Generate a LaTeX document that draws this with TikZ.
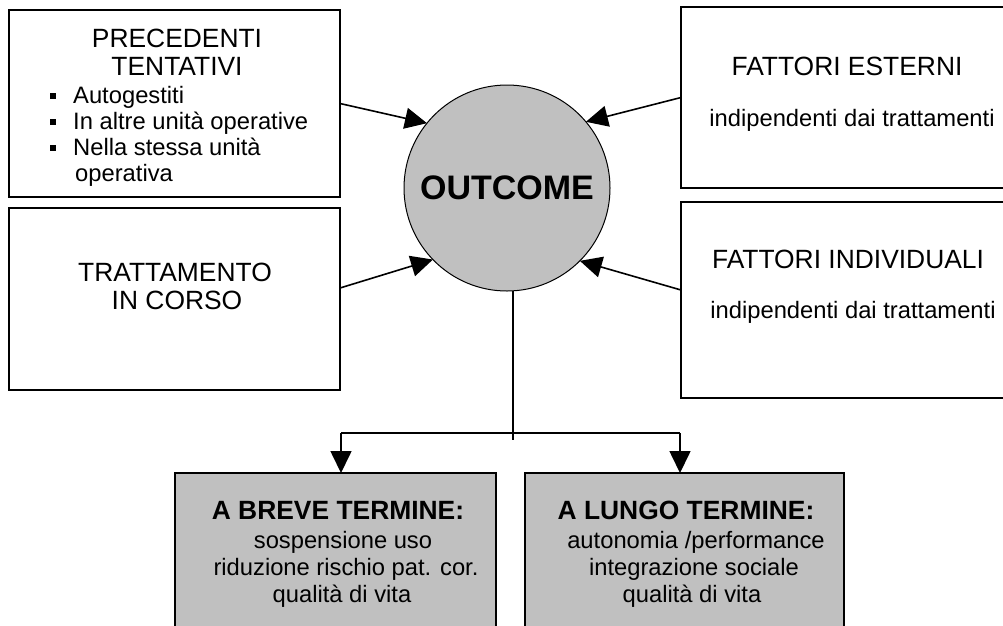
\documentclass[tikz,border=0pt]{standalone}
\usepackage{fontspec}
\setmainfont{Liberation Sans}
\usetikzlibrary{arrows.meta}
\definecolor{silver}{HTML}{C0C0C0}
\newcommand\ttlsize{\fontsize{26.4}{28}\selectfont}
\newcommand\bodysize{\fontsize{23.75}{26}\selectfont}
\tikzset{
  box/.style={draw=black, line width=1.3pt, rectangle, inner sep=0pt, outer sep=0pt, anchor=north west, fill=white},
  gbox/.style={draw=black, line width=1.6pt, rectangle, inner sep=0pt, outer sep=0pt, anchor=north west, fill=silver},
  ttl/.style={font=\ttlsize, anchor=base, inner sep=0pt},
  btl/.style={font=\bfseries\ttlsize, anchor=base, inner sep=0pt},
  txt/.style={font=\bodysize, anchor=base, inner sep=0pt},
  txtw/.style={font=\bodysize, anchor=base west, inner sep=0pt},
  bul/.style={fill=black, minimum size=6pt, inner sep=0pt, outer sep=0pt},
  conn/.style={line width=1.6pt},
  arr/.style={line width=1.6pt, -{Triangle[length=22pt,width=21pt]}},
}
\begin{document}
\begin{tikzpicture}[x=1pt,y=-1pt]
\useasboundingbox (0,0) rectangle (1003,625);
\clip (0,0) rectangle (1003,625);
\fill[white] (0,0) rectangle (1003,625);
% boxes
\node[box, minimum width=331pt, minimum height=187pt] (prec) at (9,10) {};
\node[box, minimum width=331pt, minimum height=182pt] (tratt) at (9,208) {};
\node[box, minimum width=340pt, minimum height=181pt] (est) at (681,7) {};
\node[box, minimum width=340pt, minimum height=196pt] (ind) at (681,202) {};
\node[gbox, minimum width=321pt, minimum height=175pt] (breve) at (175,473) {};
\node[gbox, minimum width=319pt, minimum height=175pt] (lungo) at (525,473) {};
\node[circle, draw=black, line width=1pt, fill=silver, minimum size=206pt, inner sep=0pt, outer sep=0pt,
      font=\bfseries\fontsize{34}{40}\selectfont] (out) at (507,188) {OUTCOME};
% texts: precedenti
\node[ttl] (p1) at (177,47) {PRECEDENTI};
\node[ttl] (p2) at (177,75) {TENTATIVI};
\node[bul] (q1) at (53,96) {};
\node[bul] (q2) at (53,122) {};
\node[bul] (q3) at (53,148) {};
\node[txtw] (l1) at (73,103) {Autogestiti};
\node[txtw] (l2) at (73,129) {In altre unità operative};
\node[txtw] (l3) at (73,155) {Nella stessa unità};
\node[txtw] (l4) at (75,181) {operativa};
% trattamento
\node[ttl] (t1) at (175,281) {TRATTAMENTO};
\node[ttl] (t2) at (177,309) {IN CORSO};
% fattori esterni
\node[ttl] (e1) at (847,75) {FATTORI ESTERNI};
\node[txt] (e2) at (852,126) {indipendenti dai trattamenti};
% fattori individuali
\node[ttl] (i1) at (848,268) {FATTORI INDIVIDUALI};
\node[txt] (i2) at (853,318) {indipendenti dai trattamenti};
% breve
\node[btl] (b1) at (338,519) {A BREVE TERMINE:};
\node[txt] (b2) at (343,548) {sospensione uso};
\node[txt] (b3) at (346,575) {riduzione rischio pat. cor.};
\node[txt] (b4) at (342,602) {qualità di vita};
% lungo
\node[btl] (g1) at (686,519) {A LUNGO TERMINE:};
\node[txt] (g2) at (696,548) {autonomia /performance};
\node[txt] (g3) at (694,575) {integrazione sociale};
\node[txt] (g4) at (692,602) {qualità di vita};
% connectors
\draw[arr] (prec.east) -- (out.141);
\draw[arr] (est.west) -- (out.40);
\draw[arr] ([yshift=11pt]tratt.east) -- (out.224);
\draw[arr] ([yshift=10pt]ind.west) -- (out.315);
\coordinate (j) at (513,440);
\coordinate (hl) at (341,433);
\coordinate (hr) at (680,433);
\draw[conn] (out.south -| j) -- (j);
\draw[conn] (hl) -- (hr);
\draw[arr] (hl) -- (hl |- breve.north);
\draw[arr] (hr) -- (hr |- lungo.north);
\end{tikzpicture}
\end{document}
